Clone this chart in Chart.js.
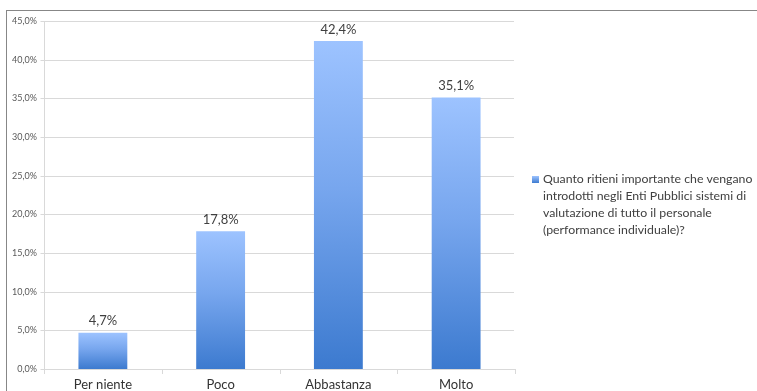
<!DOCTYPE html>
<html>
<head>
<meta charset="utf-8">
<script src="https://cdn.jsdelivr.net/npm/chart.js@4.4.1/dist/chart.umd.min.js"></script>
<style>
  html, body { margin: 0; padding: 0; background: #fff; overflow: hidden; }
  #wrap { position: relative; width: 757px; height: 391px; }
  #frame {
    position: absolute; left: 6px; top: 10px; right: -4px; bottom: -4px;
    border-left: 1px solid #878787; border-top: 1px solid #878787;
  }
  #chart { position: absolute; left: 0; top: 0; }
</style>
</head>
<body>
<div id="wrap"><div id="frame"></div><canvas id="chart" width="757" height="391"></canvas></div>
<script>
const categories = ['Per niente', 'Poco', 'Abbastanza', 'Molto'];
const values = [4.7, 17.8, 42.4, 35.1];
const seriesName = 'Quanto ritieni importante che vengano introdotti negli Enti Pubblici sistemi di valutazione di tutto il personale (performance individuale)?';
const legendLines = [
  'Quanto ritieni importante che vengano',
  'introdotti negli Enti Pubblici sistemi di',
  'valutazione di tutto il personale',
  '(performance individuale)?'
];

const FONT = 'Lato, "Open Sans", sans-serif';

function fmt(v) {
  return v.toFixed(1).replace('.', ',') + '%';
}

// gradient per bar, light on top, darker at the base
function barGradient(context) {
  const chart = context.chart;
  const y = chart.scales.y;
  if (!chart.chartArea || !y || context.raw == null) return '#6a9be6';
  const top = y.getPixelForValue(context.raw);
  const bottom = y.getPixelForValue(0);
  if (!isFinite(top) || !isFinite(bottom) || top === bottom) return '#6a9be6';
  const g = chart.ctx.createLinearGradient(0, top, 0, bottom);
  g.addColorStop(0, '#9dc3ff');
  g.addColorStop(0.45, '#77a6ee');
  g.addColorStop(1, '#3c7acf');
  return g;
}

// horizontal grid, axis lines and small tick marks
const axisLines = {
  id: 'axisLines',
  beforeDatasetsDraw(chart) {
    const x = chart.scales.x;
    const y = chart.scales.y;
    const ctx = chart.ctx;
    const step = x.getPixelForValue(1) - x.getPixelForValue(0);
    const ax = Math.round(x.left) + 0.5;
    const right = Math.round(x.left + step * categories.length);
    ctx.save();
    ctx.strokeStyle = '#d9d9d9';
    ctx.lineWidth = 1;
    y.ticks.forEach(t => {
      const py = Math.round(y.getPixelForValue(t.value)) + 0.5;
      ctx.beginPath();
      ctx.moveTo(ax - 4, py);
      ctx.lineTo(right, py);
      ctx.stroke();
    });
    for (let i = 0; i <= categories.length; i++) {
      const px = Math.round(x.left + step * i) + 0.5;
      ctx.beginPath();
      ctx.moveTo(px, x.top);
      ctx.lineTo(px, x.top + 5);
      ctx.stroke();
    }
    ctx.beginPath();
    ctx.moveTo(ax, Math.round(y.getPixelForValue(45)));
    ctx.lineTo(ax, Math.round(y.getPixelForValue(0)) + 1);
    ctx.stroke();
    ctx.restore();
  },
  afterDraw(chart) {
    // the plot is open on its right side
    const x = chart.scales.x;
    const y = chart.scales.y;
    const ctx = chart.ctx;
    const step = x.getPixelForValue(1) - x.getPixelForValue(0);
    const right = Math.round(x.left + step * categories.length);
    ctx.save();
    ctx.fillStyle = '#ffffff';
    ctx.fillRect(right - 1, 11, 4, Math.round(y.getPixelForValue(0)) - 11);
    ctx.restore();
  }
};

// value labels above bars
const valueLabels = {
  id: 'valueLabels',
  afterDatasetsDraw(chart) {
    const ctx = chart.ctx;
    const meta = chart.getDatasetMeta(0);
    ctx.save();
    ctx.font = '13px ' + FONT;
    ctx.fillStyle = '#404040';
    ctx.textAlign = 'center';
    ctx.textBaseline = 'bottom';
    meta.data.forEach((bar, i) => {
      ctx.fillText(fmt(values[i]), bar.x, bar.y - 5);
    });
    ctx.restore();
  }
};

// legend on the right, wrapped over several lines
const sideLegend = {
  id: 'sideLegend',
  afterDraw(chart) {
    const ctx = chart.ctx;
    ctx.save();
    const sq = ctx.createLinearGradient(0, 176, 0, 183);
    sq.addColorStop(0, '#9dc3ff');
    sq.addColorStop(1, '#3d7bd0');
    ctx.fillStyle = sq;
    ctx.fillRect(532, 176, 7, 7);
    ctx.font = '12.3px ' + FONT;
    ctx.fillStyle = '#404040';
    ctx.textAlign = 'left';
    ctx.textBaseline = 'middle';
    legendLines.forEach((line, i) => {
      ctx.fillText(line, 543, 179 + i * 17);
    });
    ctx.restore();
  }
};

new Chart(document.getElementById('chart'), {
  type: 'bar',
  data: {
    labels: categories,
    datasets: [{
      label: seriesName,
      data: values,
      backgroundColor: barGradient,
      borderWidth: 0,
      barPercentage: 0.415,
      categoryPercentage: 1
    }]
  },
  options: {
    responsive: false,
    animation: false,
    events: [],
    layout: { padding: { left: 0, right: 242, top: 21, bottom: 0 } },
    plugins: {
      legend: { display: false },
      tooltip: { enabled: false }
    },
    scales: {
      x: {
        grid: { display: false, drawTicks: false },
        border: { display: false },
        ticks: {
          font: { family: FONT, size: 13 },
          color: '#333333',
          padding: 8
        },
        afterFit(scale) { scale.height = 22; }
      },
      y: {
        min: 0,
        max: 45,
        ticks: {
          stepSize: 5,
          font: { family: FONT, size: 9 },
          color: '#595959',
          padding: 7,
          callback: v => fmt(v)
        },
        grid: { display: false, drawTicks: false },
        border: { display: false },
        afterFit(scale) { scale.width = 44; }
      }
    }
  },
  plugins: [axisLines, valueLabels, sideLegend]
});
</script>
</body>
</html>
